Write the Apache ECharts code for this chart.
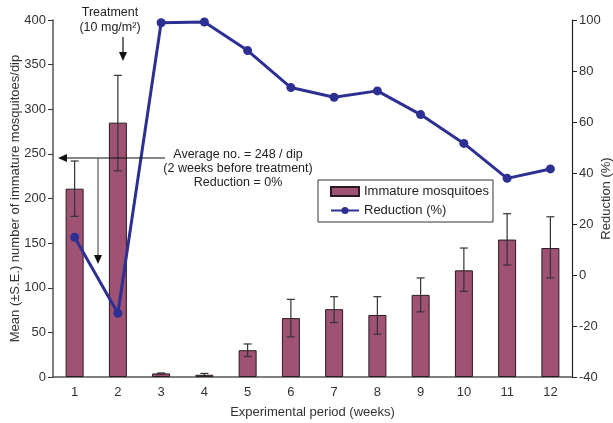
<!DOCTYPE html>
<html>
<head>
<meta charset="utf-8">
<script src="https://cdn.jsdelivr.net/npm/echarts@6/dist/echarts.min.js"></script>
<style>
  html, body { margin: 0; padding: 0; background: #fff; }
  #chart { width: 613px; height: 423px; }
</style>
</head>
<body>
<div id="chart"></div>
<script>
  // weeks
  var weeks = ['1', '2', '3', '4', '5', '6', '7', '8', '9', '10', '11', '12']
  // mean immature mosquitoes per dip
  var meanNum = [211, 285, 4, 2.5, 30, 66, 76, 69.5, 92, 119.5, 154, 144.5]
  // standard error (upper / lower ends)
  var errHigh = [242, 338, 4.5, 4, 37, 87, 90, 90, 111, 144.5, 183, 179.5]
  var errLow = [180, 231, 3.5, 1.5, 23, 45, 61, 48, 73, 96, 125.5, 111]
  // reduction (%)
  var reduction = [14.8, -15, 98.9, 99.2, 88, 73.5, 69.7, 72.2, 62.9, 51.6, 37.9, 41.6]

  var barColor = '#9f5273'
  var lineColor = '#2d3092'
  var axisColor = '#555'
  var font = 'Liberation Sans, Arial, sans-serif'

  var errData = []
  for (var i = 0; i < weeks.length; i++) {
    errData.push([i, errLow[i], errHigh[i]])
  }

  function arrowHead (x, y, dir) {
    // small filled triangle
    var s = 4, l = 9
    var pts
    if (dir === 'down') pts = [[x - s, y - l], [x + s, y - l], [x, y]]
    else pts = [[x + l, y - s], [x + l, y + s], [x, y]]
    return { type: 'polygon', shape: { points: pts }, style: { fill: '#111' }, z: 100 }
  }

  var myChart = echarts.init(document.getElementById('chart'))
  myChart.setOption({
    animation: false,
    textStyle: { fontFamily: font },
    grid: { left: 53, right: 41, top: 20, bottom: 46, outerBoundsMode: 'none', containLabel: false },
    legend: {
      left: 318,
      top: 180,
      width: 175,
      height: 45,
      orient: 'vertical',
      padding: [5, 4, 5, 12],
      itemGap: 6,
      itemWidth: 28,
      itemHeight: 9,
      borderColor: '#333',
      borderWidth: 1,
      borderRadius: 0,
      backgroundColor: '#fff',
      textStyle: { fontSize: 13, color: '#222', fontFamily: font },
      data: [
        { name: 'Immature mosquitoes', icon: 'rect' },
        { name: 'Reduction (%)' }
      ]
    },
    xAxis: {
      type: 'category',
      data: weeks,
      name: 'Experimental period (weeks)',
      nameLocation: 'middle',
      nameGap: 29,
      nameMoveOverlap: false,
      nameTextStyle: { fontSize: 13, color: '#333' },
      axisLine: { lineStyle: { color: axisColor, width: 1.5 } },
      axisTick: { length: 5, lineStyle: { color: '#333' } },
      axisLabel: { fontSize: 13, color: '#333', margin: 9 }
    },
    yAxis: [
      {
        type: 'value',
        min: 0,
        max: 400,
        interval: 50,
        name: 'Mean (\u00B1S.E.) number of immature mosquitoes/dip',
        nameLocation: 'middle',
        nameGap: 31,
        nameRotate: 90,
        nameMoveOverlap: false,
        nameTextStyle: { fontSize: 13, color: '#333' },
        splitLine: { show: false },
        axisLine: { show: true, lineStyle: { color: axisColor, width: 1.5 } },
        axisTick: { show: true, length: 5, lineStyle: { color: '#333' } },
        axisLabel: { fontSize: 13, color: '#333', margin: 7 }
      },
      {
        type: 'value',
        min: -40,
        max: 100,
        interval: 20,
        position: 'right',
        name: 'Reduction (%)',
        nameLocation: 'middle',
        nameGap: 28,
        nameRotate: 90,
        nameMoveOverlap: false,
        nameTextStyle: { fontSize: 13, color: '#333' },
        splitLine: { show: false },
        axisLine: { show: true, lineStyle: { color: '#222', width: 1.2 } },
        axisTick: { show: true, length: 5, lineStyle: { color: '#222' } },
        axisLabel: { fontSize: 13, color: '#333', margin: 7 }
      }
    ],
    series: [
      {
        name: 'Immature mosquitoes',
        type: 'bar',
        barWidth: 18,
        data: meanNum,
        itemStyle: { color: barColor, borderColor: '#2a1a22', borderWidth: 1 },
        z: 2
      },
      {
        name: 'errors',
        type: 'custom',
        data: errData,
        z: 3,
        renderItem: function (params, api) {
          var x = api.value(0)
          var lo = api.coord([x, api.value(1)])
          var hi = api.coord([x, api.value(2)])
          var w = 4
          var st = { stroke: '#333', lineWidth: 1.2 }
          return {
            type: 'group',
            children: [
              { type: 'line', shape: { x1: lo[0], y1: lo[1], x2: hi[0], y2: hi[1] }, style: st },
              { type: 'line', shape: { x1: hi[0] - w, y1: hi[1], x2: hi[0] + w, y2: hi[1] }, style: st },
              { type: 'line', shape: { x1: lo[0] - w, y1: lo[1], x2: lo[0] + w, y2: lo[1] }, style: st }
            ]
          }
        }
      },
      {
        name: 'Reduction (%)',
        type: 'line',
        yAxisIndex: 1,
        data: reduction,
        symbol: 'circle',
        symbolSize: 9,
        lineStyle: { color: lineColor, width: 3 },
        itemStyle: { color: lineColor },
        z: 5
      }
    ],
    graphic: [
      { type: 'text', x: 110, y: 6, style: { text: 'Treatment', font: '12.5px ' + font, fill: '#222', align: 'center' } },
      { type: 'text', x: 110, y: 21, style: { text: '(10 mg/m\u00B2)', font: '12.5px ' + font, fill: '#222', align: 'center' } },
      { type: 'line', shape: { x1: 123, y1: 37, x2: 123, y2: 56 }, style: { stroke: '#111', lineWidth: 1.2 }, z: 100 },
      arrowHead(123, 61, 'down'),
      { type: 'line', shape: { x1: 165, y1: 158, x2: 64, y2: 158 }, style: { stroke: '#111', lineWidth: 1.2 }, z: 100 },
      arrowHead(58, 158, 'left'),
      { type: 'line', shape: { x1: 98, y1: 158, x2: 98, y2: 258 }, style: { stroke: '#555', lineWidth: 1.2 }, z: 100 },
      arrowHead(98, 264, 'down'),
      { type: 'text', x: 238, y: 148, style: { text: 'Average no. = 248 / dip', font: '12.5px ' + font, fill: '#222', align: 'center' }, z: 100 },
      { type: 'text', x: 238, y: 162, style: { text: '(2 weeks before treatment)', font: '12.5px ' + font, fill: '#222', align: 'center' }, z: 100 },
      { type: 'text', x: 238, y: 176, style: { text: 'Reduction = 0%', font: '12.5px ' + font, fill: '#222', align: 'center' }, z: 100 }
    ]
  })
</script>
</body>
</html>
